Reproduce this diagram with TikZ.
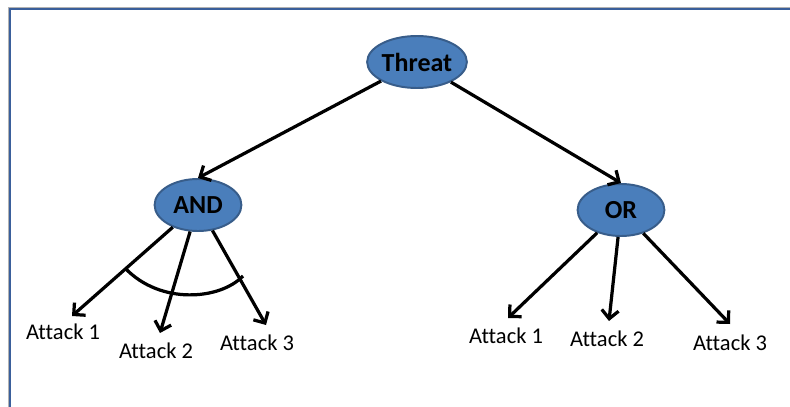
\documentclass[tikz,border=0pt]{standalone}
\usepackage{fontspec}
\setmainfont{Carlito}[Ligatures=NoCommon]
\usetikzlibrary{shapes.geometric,arrows.meta}
\definecolor{gateblue}{HTML}{4A7EBB}
\definecolor{gateedge}{HTML}{385D8A}
\definecolor{framecol}{HTML}{3A5F9B}

\begin{document}
\begin{tikzpicture}[x=0.025cm,y=-0.025cm,
	gate/.style={ellipse, draw=gateedge, line width=1.4pt, fill=gateblue, minimum width=2.17cm, minimum height=1.3cm, inner sep=0pt, font=\bfseries\fontsize{18.5}{22}\selectfont},
	leaf/.style={font=\fontsize{16}{19}\selectfont, inner sep=0pt},
	link/.style={line width=2.3pt, -{Straight Barb[length=6pt,width=12pt]}}]
	\useasboundingbox (0,0) rectangle (790,407);
	% frame
	\draw[gray!60, line width=1pt] (8.5,407) -- (8.5,7.5) -- (790,7.5);
	\draw[framecol, line width=2pt] (10,407) -- (10,9) -- (790,9);
	% gates
	\node (Threat) at (417, 62)	[gate]	{Threat};
	\node (AND) at (198, 205)	[gate]	{AND};
	\node (OR) at (621, 210)	[gate]	{OR};
	% leaves
	\node (A1) at ( 63, 332)	[leaf]	{Attack 1};
	\node (A2) at (156, 351)	[leaf]	{Attack 2};
	\node (A3) at (257, 343)	[leaf]	{Attack 3};
	\node (O1) at (506, 336)	[leaf]	{Attack 1};
	\node (O2) at (607, 339)	[leaf]	{Attack 2};
	\node (O3) at (730, 343)	[leaf]	{Attack 3};
	\coordinate (A1tip) at ( 72, 316);
	\coordinate (A2tip) at (160, 333);
	\coordinate (A3tip) at (266, 325);
	\coordinate (O1tip) at (508, 318);
	\coordinate (O2tip) at (609, 321);
	\coordinate (O3tip) at (730, 324);
	% links
	\draw[link] (Threat) -- (AND.north);
	\draw[link] (Threat) -- (OR.north);
	\draw[link] (AND) -- (A1tip);
	\draw[link] (AND) -- (A2tip);
	\draw[link] (AND) -- (A3tip);
	\draw[link] (OR) -- (O1tip);
	\draw[link] (OR) -- (O2tip);
	\draw[link] (OR) -- (O3tip);
	% and-arc
	\draw[line width=2.3pt] (125,268) .. controls (160,305) and (220,300) .. (243,276);
\end{tikzpicture}
\end{document}
